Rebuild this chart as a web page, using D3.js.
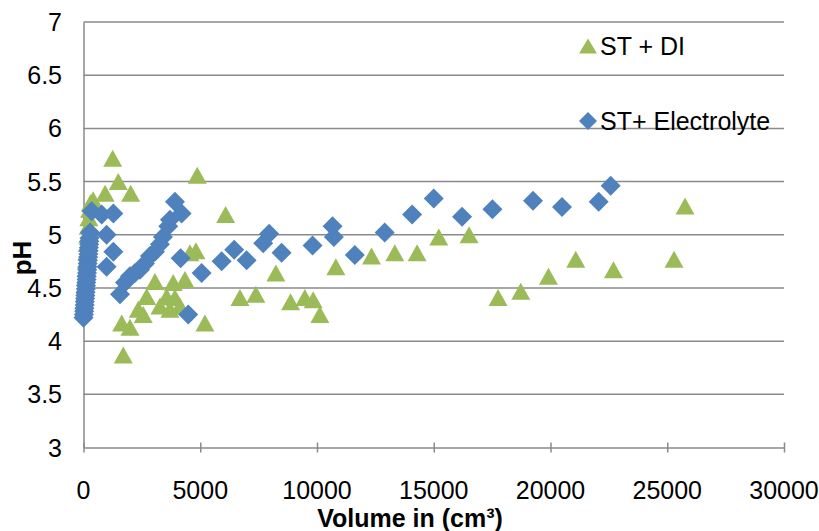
<!DOCTYPE html>
<html>
<head>
<meta charset="utf-8">
<script src="https://cdn.jsdelivr.net/npm/d3@7"></script>
<style>
  html, body { margin: 0; padding: 0; background: #fff; }
  svg { display: block; }
  text { font-family: "Liberation Sans", Arial, sans-serif; fill: #000; }
</style>
</head>
<body>
<svg id="chart" width="819" height="531"></svg>
<script>
// ---- data: volume (cm³) and pH readings ----
const seriesNames = ["ST + DI", "ST+ Electrolyte"];

const diVolume = [
  0, 20, 40, 60, 80, 100, 120, 140, 160, 180, 200, 230, 260, 300, 411,
  925, 1250, 1489, 2020, 1703, 1635, 1990, 2345, 2559, 2705, 3060, 3274,
  3561, 3702, 3843, 3916, 4130, 4344, 4558, 4815, 4871, 5200, 6086, 6699,
  7383, 8239, 8868, 9480, 9836, 10123, 10808, 12335, 13332, 14287, 15216,
  16513, 17755, 18727, 19913, 21082, 22696, 25291, 25762
];
const diPH = [
  4.30, 4.38, 4.45, 4.52, 4.60, 4.68, 4.76, 4.84, 4.92, 5.00, 5.08, 5.16, 5.24, 5.30, 5.33,
  5.39, 5.72, 5.50, 5.39, 3.87, 4.17, 4.13, 4.30, 4.25, 4.42, 4.56, 4.33,
  4.42, 4.30, 4.55, 4.41, 4.33, 4.58, 4.83, 4.85, 5.56, 4.17, 5.19, 4.41,
  4.44, 4.64, 4.37, 4.41, 4.39, 4.25, 4.70, 4.80, 4.83, 4.83, 4.98,
  5.00, 4.41, 4.47, 4.61, 4.77, 4.67, 4.77, 5.27
];

const elVolume = [
  0, 20, 30, 40, 50, 60, 70, 80, 90, 100, 110, 120, 130, 140, 150, 160, 170,
  180, 190, 200, 210, 220, 230, 240, 250, 260, 280, 350, 780, 1280, 990,
  1280, 990, 1562, 1776, 1990, 2204, 2418, 2632, 2846, 3060, 3274, 3403,
  3629, 3702, 3916, 4203, 4160, 5059, 4485, 5915, 6454, 6985, 7695, 7952,
  8483, 9810, 10666, 10722, 11620, 12900, 14073, 15001, 16213, 17514,
  19252, 20493, 22064, 22578
];
const elPH = [
  4.22, 4.25, 4.28, 4.31, 4.34, 4.37, 4.40, 4.43, 4.46, 4.49, 4.52, 4.55, 4.58, 4.61, 4.64, 4.67, 4.70,
  4.73, 4.76, 4.79, 4.82, 4.85, 4.88, 4.91, 4.94, 4.97, 5.02, 5.22, 5.19, 5.20, 5.00,
  4.84, 4.70, 4.44, 4.55, 4.61, 4.64, 4.67, 4.73, 4.80, 4.84, 4.91, 4.98,
  5.08, 5.14, 5.31, 5.20, 4.78, 4.64, 4.25, 4.75, 4.86, 4.76, 4.92, 5.01,
  4.83, 4.90, 5.08, 4.98, 4.81, 5.02, 5.19, 5.34, 5.17, 5.24,
  5.32, 5.26, 5.31, 5.46
];

const xTickValues = [0, 5000, 10000, 15000, 20000, 25000, 30000];
const yTickValues = [3, 3.5, 4, 4.5, 5, 5.5, 6, 6.5, 7];

// ---- layout ----
const svg = d3.select("#chart");
const plot = { left: 83.5, right: 784, top: 22, bottom: 447.5 };
const green = "#9BBB59";
const blue = "#4F81BD";
const gridColor = "#8a8a8a";

const x = d3.scaleLinear().domain([0, 30000]).range([plot.left, plot.right]);
const y = d3.scaleLinear().domain([3, 7]).range([plot.bottom, plot.top]);

// marker shapes, centred on the data point
const triW = 19, triH = 17;
const trianglePath = (w, h) => `M0,${-h / 2}L${w / 2},${h / 2}L${-w / 2},${h / 2}Z`;
const diaR = 10;
const diamondPath = r => `M0,${-r}L${r},0L0,${r}L${-r},0Z`;

// horizontal gridlines
svg.append("g")
  .selectAll("line")
  .data(yTickValues.filter(v => v !== 3))
  .join("line")
  .attr("x1", plot.left).attr("x2", plot.right)
  .attr("y1", d => y(d)).attr("y2", d => y(d))
  .attr("stroke", gridColor).attr("stroke-width", 1.5);

// x axis (ticks cross the line)
const xAxis = svg.append("g")
  .attr("transform", `translate(0,${plot.bottom})`)
  .call(d3.axisBottom(x).tickValues(xTickValues).tickSize(0).tickFormat(""));
xAxis.select(".domain").attr("stroke", gridColor).attr("stroke-width", 1.5);
xAxis.selectAll(".tick").append("line")
  .attr("y1", -5).attr("y2", 5)
  .attr("stroke", gridColor).attr("stroke-width", 1.5);

// y axis line
const yAxis = svg.append("g")
  .attr("transform", `translate(${plot.left},0)`)
  .call(d3.axisLeft(y).tickValues(yTickValues).tickSize(0).tickFormat(""));
yAxis.select(".domain").attr("stroke", gridColor).attr("stroke-width", 1.5);

// tick labels
svg.append("g")
  .selectAll("text")
  .data(xTickValues)
  .join("text")
  .attr("x", d => x(d))
  .attr("y", 499)
  .attr("text-anchor", "middle")
  .style("font-size", "25px")
  .text(d => String(d));

svg.append("g")
  .selectAll("text")
  .data(yTickValues)
  .join("text")
  .attr("x", 62)
  .attr("y", d => y(d))
  .attr("dy", "0.36em")
  .attr("text-anchor", "end")
  .style("font-size", "25px")
  .text(d => String(d));

// axis titles
svg.append("text")
  .attr("x", 410).attr("y", 527)
  .attr("text-anchor", "middle")
  .style("font-size", "25px").style("font-weight", "bold")
  .html("Volume in (cm³)");

svg.append("text")
  .attr("transform", "translate(31,258) rotate(-90)")
  .attr("text-anchor", "middle")
  .style("font-size", "26px").style("font-weight", "bold")
  .text("pH");

// series: ST + DI (triangles) beneath, ST+ Electrolyte (diamonds) on top
const diData = diVolume.map((v, i) => ({ v, ph: diPH[i] }));
const elData = elVolume.map((v, i) => ({ v, ph: elPH[i] }));

svg.append("g")
  .selectAll("path")
  .data(diData)
  .join("path")
  .attr("d", trianglePath(triW, triH))
  .attr("transform", d => `translate(${x(d.v)},${y(d.ph)})`)
  .attr("fill", green);

svg.append("g")
  .selectAll("path")
  .data(elData)
  .join("path")
  .attr("d", diamondPath(diaR))
  .attr("transform", d => `translate(${x(d.v)},${y(d.ph)})`)
  .attr("fill", blue);

// legend
const legend = svg.append("g");
const legendItems = [
  { name: seriesNames[0], shape: trianglePath(18, 15), color: green, cy: 46 },
  { name: seriesNames[1], shape: diamondPath(9), color: blue, cy: 121 }
];
legendItems.forEach(item => {
  legend.append("path")
    .attr("d", item.shape)
    .attr("transform", `translate(588,${item.cy})`)
    .attr("fill", item.color);
  legend.append("text")
    .attr("x", 600).attr("y", item.cy)
    .attr("dy", "0.36em")
    .style("font-size", "25px")
    .text(item.name);
});
</script>
</body>
</html>
